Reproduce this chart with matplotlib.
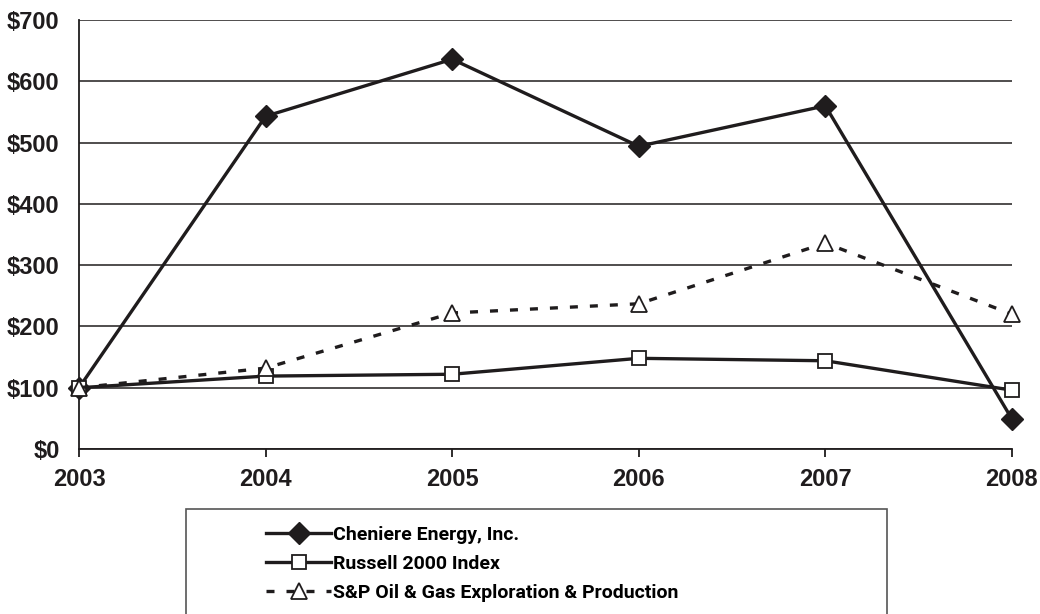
import matplotlib
matplotlib.use("Agg")
import matplotlib.pyplot as plt
from matplotlib.font_manager import FontProperties
from matplotlib.patches import Rectangle

# Data
years = [2003, 2004, 2005, 2006, 2007, 2008]
cheniere = [100, 543, 636, 494, 560, 49]
russell = [100, 119, 122, 148, 144, 96]
sp_oil_gas = [100, 132, 222, 237, 336, 220]

labels = ["Cheniere Energy, Inc.", "Russell 2000 Index",
          "S&P Oil & Gas Exploration & Production"]
y_ticks = [0, 100, 200, 300, 400, 500, 600, 700]
y_labels = ["$" + str(v) for v in y_ticks]

INK = "#1f1c1d"
plt.rcParams["font.family"] = ["Liberation Sans", "DejaVu Sans"]
plt.rcParams["font.weight"] = "bold"

tick_font = FontProperties(family="Liberation Sans", weight="bold", size=17)
legend_font = FontProperties(family="Roboto", weight="bold", size=14)

fig = plt.figure(figsize=(10.4, 6.14), dpi=100)
ax = fig.add_axes([0.076, 0.2687, 0.897, 0.6987])

ax.plot(years, cheniere, color=INK, lw=2.4, marker="D", ms=11,
        mfc=INK, mec=INK, clip_on=False, zorder=4, label=labels[0])
ax.plot(years, russell, color=INK, lw=2.4, marker="s", ms=10,
        mfc="white", mec=INK, mew=1.3, clip_on=False, zorder=5, label=labels[1])
ax.plot(years, sp_oil_gas, color=INK, lw=2.4, ls=(0, (2.4, 3.6)), marker="^",
        ms=12, mfc="white", mec=INK, mew=1.3, clip_on=False, zorder=6,
        label=labels[2])

ax.set_xlim(years[0], years[-1])
ax.set_ylim(0, 700)
ax.set_xticks(years)
ax.set_xticklabels([str(y) for y in years], fontproperties=tick_font)
ax.set_yticks(y_ticks)
ax.set_yticklabels(y_labels, fontproperties=tick_font)
ax.grid(axis="y", color=INK, lw=1.1)
ax.set_axisbelow(True)

for s in ("top", "right"):
    ax.spines[s].set_visible(False)
for s in ("left", "bottom"):
    ax.spines[s].set_color(INK)
    ax.spines[s].set_linewidth(1.3)

ax.tick_params(axis="y", length=0, pad=14, colors=INK)
ax.tick_params(axis="x", length=6, width=1.3, direction="out", pad=8,
               colors=INK)

# legend box (runs past the bottom edge like the reference)
fig.patches.append(Rectangle((186 / 1040, -0.05), (887 - 186) / 1040,
                             (614 - 509) / 614 + 0.05,
                             transform=fig.transFigure, fill=False,
                             edgecolor="#555555", lw=1.2))
fig.legend(loc="upper left", bbox_to_anchor=(266 / 1040, 1 - 526 / 614),
           frameon=False, handlelength=3.35, handletextpad=0.1,
           labelspacing=0.57, borderaxespad=0, borderpad=0,
           prop=legend_font)

fig.savefig("out.png", dpi=100, facecolor="white")
